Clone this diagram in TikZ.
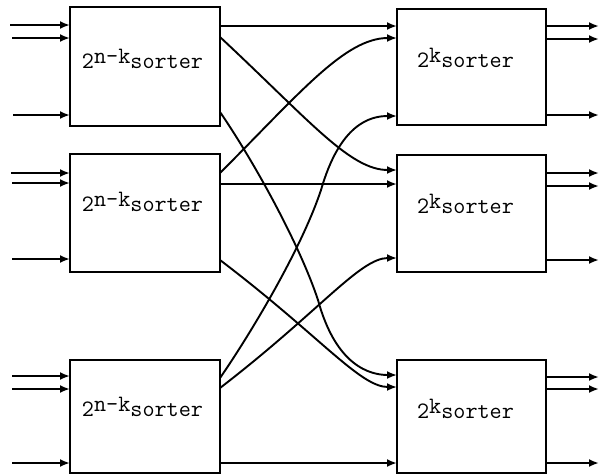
\documentclass[tikz,border=0pt]{standalone}
\usepackage{fontspec}
\usetikzlibrary{arrows.meta}
\begin{document}
\begin{tikzpicture}[x=1pt,y=-1pt,
  box/.style={draw, line width=2.2pt, inner sep=0pt},
  lbl/.style={font=\ttfamily\addfontfeature{FakeBold=1.2}\fontsize{23.5}{23.5}\selectfont, anchor=base, inner sep=0pt},
  arr/.style={line width=2.3pt, -{Latex[length=10pt,width=8pt]}},
  conn/.style={line width=1.9pt, -{Latex[length=10pt,width=8pt]}}]
\useasboundingbox[fill=white] (0,0) rectangle (601,475);
% boxes
\node[box, minimum width=150pt, minimum height=119pt] (L1) at (145,66.5) {};
\node[box, minimum width=150pt, minimum height=118pt] (L2) at (145,213) {};
\node[box, minimum width=150pt, minimum height=113pt] (L3) at (145,416.5) {};
\node[box, minimum width=149pt, minimum height=116pt] (R1) at (471.5,67) {};
\node[box, minimum width=149pt, minimum height=117pt] (R2) at (471.5,213.5) {};
\node[box, minimum width=149pt, minimum height=113pt] (R3) at (471.5,416.5) {};
% labels
\node[lbl] (tL1) at ([xshift=-2.5pt,yshift=-1.5pt]L1.center) {2\raisebox{5pt}{n-k}sorter};
\node[lbl] (tL2) at ([xshift=-2.5pt,yshift=1.3pt]L2.center) {2\raisebox{5pt}{n-k}sorter};
\node[lbl] (tL3) at ([xshift=-2.5pt]L3.center) {2\raisebox{5pt}{n-k}sorter};
\node[lbl] (tR1) at ([xshift=-6pt]R1.center) {2\raisebox{5pt}{k}sorter};
\node[lbl] (tR2) at ([xshift=-6pt]R2.center) {2\raisebox{5pt}{k}sorter};
\node[lbl] (tR3) at ([xshift=-6pt,yshift=-1.8pt]R3.center) {2\raisebox{5pt}{k}sorter};
% input ports (left)
\coordinate (a11) at (10,25);  \coordinate (b11) at (70,25);
\coordinate (a12) at (12,38);  \coordinate (b12) at (70,38);
\coordinate (a13) at (13,115); \coordinate (b13) at (70,115);
\coordinate (a21) at (11,173); \coordinate (b21) at (70,173);
\coordinate (a22) at (12,183); \coordinate (b22) at (70,183);
\coordinate (a23) at (12,259); \coordinate (b23) at (70,259);
\coordinate (a31) at (12,376); \coordinate (b31) at (70,376);
\coordinate (a32) at (12,389); \coordinate (b32) at (70,389);
\coordinate (a33) at (12,463); \coordinate (b33) at (70,463);
% left box outputs
\coordinate (p11) at (220,26);  \coordinate (p12) at (220,37);  \coordinate (p13) at (220,112);
\coordinate (p21) at (220,173); \coordinate (p22) at (220,184); \coordinate (p23) at (220,260);
\coordinate (p31) at (220,378); \coordinate (p32) at (220,388); \coordinate (p33) at (220,463);
% right box inputs
\coordinate (q11) at (397,26);  \coordinate (q12) at (397,38);  \coordinate (q13) at (397,116);
\coordinate (q21) at (397,170); \coordinate (q22) at (397,184); \coordinate (q23) at (397,258);
\coordinate (q31) at (397,375); \coordinate (q32) at (397,387); \coordinate (q33) at (397,463);
% right box outputs
\coordinate (r11) at (546,26);  \coordinate (s11) at (599,26);
\coordinate (r12) at (546,39);  \coordinate (s12) at (599,39);
\coordinate (r13) at (546,115); \coordinate (s13) at (599,115);
\coordinate (r21) at (546,173); \coordinate (s21) at (599,173);
\coordinate (r22) at (546,186); \coordinate (s22) at (599,186);
\coordinate (r23) at (546,260); \coordinate (s23) at (599,260);
\coordinate (r31) at (546,377); \coordinate (s31) at (599,377);
\coordinate (r32) at (546,389); \coordinate (s32) at (599,389);
\coordinate (r33) at (546,463); \coordinate (s33) at (599,463);
% inputs
\foreach \i in {11,12,13,21,22,23,31,32,33} {\draw[arr] (a\i) -- (b\i);}
% outputs
\foreach \i in {11,12,13,21,22,23,31,32,33} {\draw[arr] (r\i) -- (s\i);}
% straight connections
\draw[arr] (p11) -- (q11);
\draw[arr] (p22) -- (q22);
\draw[arr] (p33) -- (q33);
% crossing connections
\draw[conn] (p12) .. controls (310,121) and (350,170) .. (q21);
\draw[conn] (p21) .. controls (300,93) and (345,38) .. (q12);
\draw[conn] (p23) .. controls (320,336) and (360,387) .. (q32);
\draw[conn] (p32) .. controls (320,311) and (360,258) .. (q23);
\draw[conn] (p13) .. controls (250,155.5) and (298,240) .. (318,300) .. controls (336,366) and (370,375) .. (q31);
\draw[conn] (p31) .. controls (250,334.5) and (301,250) .. (321,190) .. controls (340,124) and (370,116) .. (q13);
\end{tikzpicture}
\end{document}
